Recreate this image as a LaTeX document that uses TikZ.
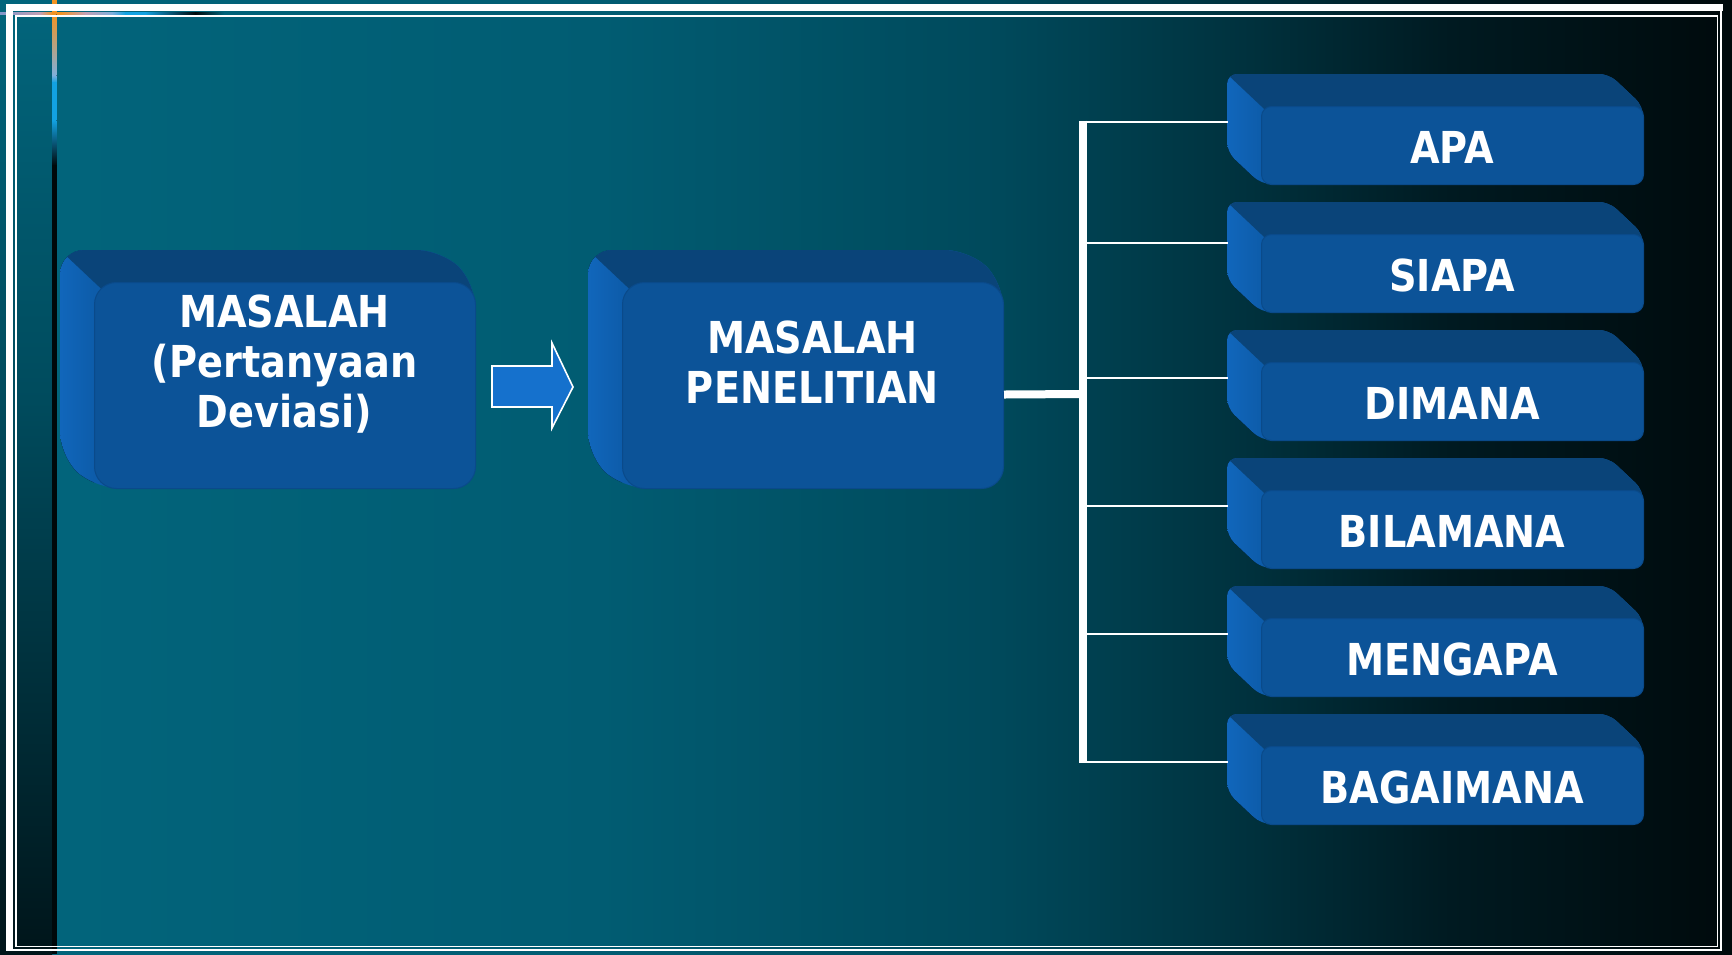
\documentclass[tikz,border=0pt]{standalone}
\usepackage{fontspec}
\newfontfamily\lblfont{DejaVu Sans}[FakeStretch=0.87]
\definecolor{frontc}{HTML}{0C5398}
\definecolor{frontedge}{HTML}{0A4A8A}
\definecolor{topc}{HTML}{0A4479}
\definecolor{sidec}{HTML}{0D5CAA}
\definecolor{sidel}{HTML}{1167BC}
\definecolor{arrowc}{HTML}{1571CD}
\definecolor{bgA}{HTML}{02657C}
\definecolor{bgB}{HTML}{015C72}
\definecolor{bgC}{HTML}{00495B}
\definecolor{bgD}{HTML}{00313D}
\definecolor{bgE}{HTML}{001A21}
\definecolor{bgF}{HTML}{000A0C}
\definecolor{stripM}{HTML}{004B5D}
\definecolor{stripB}{HTML}{00151A}
\definecolor{acOr}{HTML}{F39322}
\definecolor{acLav}{HTML}{8196C8}
\definecolor{acPink}{HTML}{C4A0B4}
\definecolor{acLb}{HTML}{7FB0DC}
\definecolor{acBl}{HTML}{12A2E2}
\definecolor{acDk}{HTML}{00080A}
\tikzset{
  lbl/.style={font=\lblfont\bfseries\fontsize{22}{25}\selectfont, text=white, align=center, inner sep=0pt},
  trunkline/.style={draw=white, line width=3.6pt},
  twig/.style={draw=white, line width=1pt},
  framew/.style={fill=white},
}
% #1 name, #2 front left x, #3 front top y, #4 width, #5 height, #6 front radius, #7 hull radius
\newcommand\cubebox[7]{%
  \begin{scope}
    \clip[rounded corners=#7] ({#2-34},{#3-32}) -- ({#2+#4-34},{#3-32}) -- ({#2+#4},{#3}) -- ({#2+#4},{#3+#5}) -- ({#2},{#3+#5}) -- ({#2-34},{#3+#5-32}) -- cycle;
    \fill[sidec] ({#2-1},{#3-40}) rectangle ({#2+#4+5},{#3+#5+5});
    \fill[left color=sidel, right color=sidec] ({#2-36},{#3-40}) rectangle ({#2},{#3+#5+5});
    \fill[topc] ({#2-68},{#3-64}) -- ({#2+#4+20},{#3-64}) -- ({#2+#4+20},{#3+30}) -- ({#2+31.875},{#3+30}) -- cycle;
  \end{scope}
  \node[fill=frontc, draw=frontedge, line width=0.5pt, rounded corners=#6, minimum width={#4*0.5pt}, minimum height={#5*0.5pt}, inner sep=0pt, anchor=north west] (#1) at (#2,#3) {};
}
\begin{document}
\begin{tikzpicture}[x=0.5pt,y=-0.5pt]
\useasboundingbox (0,0) rectangle (1732,954);
% background
\fill[left color=bgA, right color=bgB] (0,0) rectangle (600.5,954);
\fill[left color=bgB, right color=bgC] (600,0) rectangle (1000.5,954);
\fill[left color=bgC, right color=bgD] (1000,0) rectangle (1250.5,954);
\fill[left color=bgD, right color=bgE] (1250,0) rectangle (1450.5,954);
\fill[left color=bgE, right color=bgF] (1450,0) rectangle (1732,954);
% left strip
\fill[top color=bgA, bottom color=stripM] (0,0) rectangle (52,400.5);
\fill[top color=stripM, bottom color=stripB] (0,400) rectangle (52,954);
% accent lines
\fill[left color=acLav, right color=acPink] (0,12) rectangle (40.5,14.5);
\fill[left color=acPink, right color=acOr] (40,12) rectangle (52.5,14.5);
\fill[acOr] (52,12) rectangle (60.5,14.5);
\fill[left color=acOr, right color=acPink] (60,12) rectangle (85.5,14.5);
\fill[left color=acPink, right color=acLb] (85,12) rectangle (112.5,14.5);
\fill[left color=acLb, right color=acBl] (112,12) rectangle (125.5,14.5);
\fill[acBl] (125,12) rectangle (145.5,14.5);
\fill[left color=acBl, right color=acDk] (145,12) rectangle (195.5,14.5);
\fill[left color=acDk, right color=bgA] (195,12) rectangle (225,14.5);
\fill[acOr] (52,0) rectangle (56.5,14.5);
\fill[top color=acOr, bottom color=acLb] (52,14) rectangle (56.5,75.5);
\fill[top color=acLb, bottom color=acBl] (52,75) rectangle (56.5,82.5);
\fill[acBl] (52,82) rectangle (56.5,120.5);
\fill[top color=acBl, bottom color=acDk] (52,120) rectangle (56.5,165.5);
\fill[acDk] (52,165) rectangle (56.5,954);
% frames
\fill[framew] (6,4) rectangle (1723,10.5);
\fill[framew] (6,4) rectangle (13,951);
\fill[framew] (1719.5,4) rectangle (1722,951);
\fill[framew] (6,948.5) rectangle (1722,951);
\draw[white, line width=0.75pt] (16,16) rectangle (1717.5,946.5);
% boxes
\cubebox{fLeft}{94}{282}{381}{206}{11pt}{12pt}
\cubebox{fMid}{622}{282}{381}{206}{11pt}{12pt}
\node[lbl] (tLeft) at (284.5,364) {MASALAH\\(Pertanyaan\\Deviasi)};
\node[lbl] (tMid) at (812.5,362) {MASALAH\\PENELITIAN};
% arrow
\fill[arrowc, draw=white, line width=0.8pt] (492,366) -- (552,366) -- (552,343) -- (573,387) -- (552,428) -- (552,407) -- (492,407) -- cycle;
% connectors
\coordinate (trTop) at (1083,120.5);
\coordinate (trBot) at (1083,763);
\coordinate (trMid) at (1083,394);
\draw[white, line width=4pt] ([yshift=-4.5pt]fMid.east) -- (trMid);
\draw[trunkline] (trTop) -- (trBot);
\foreach \nm/\lab/\ty/\ly in {A/APA/106/121.5, B/SIAPA/234/243, C/DIMANA/362/378, D/BILAMANA/490/506, E/MENGAPA/618/634, F/BAGAIMANA/746/762}{
  \cubebox{f\nm}{1261}{\ty}{382}{78}{5pt}{5pt}
  \node[lbl] (t\nm) at (1452,\ty+41) {\lab};
  \coordinate (br\nm) at (1083,\ly);
  \coordinate (in\nm) at (1228,\ly);
  \draw[twig] (br\nm) -- (in\nm);
}
\end{tikzpicture}
\end{document}
